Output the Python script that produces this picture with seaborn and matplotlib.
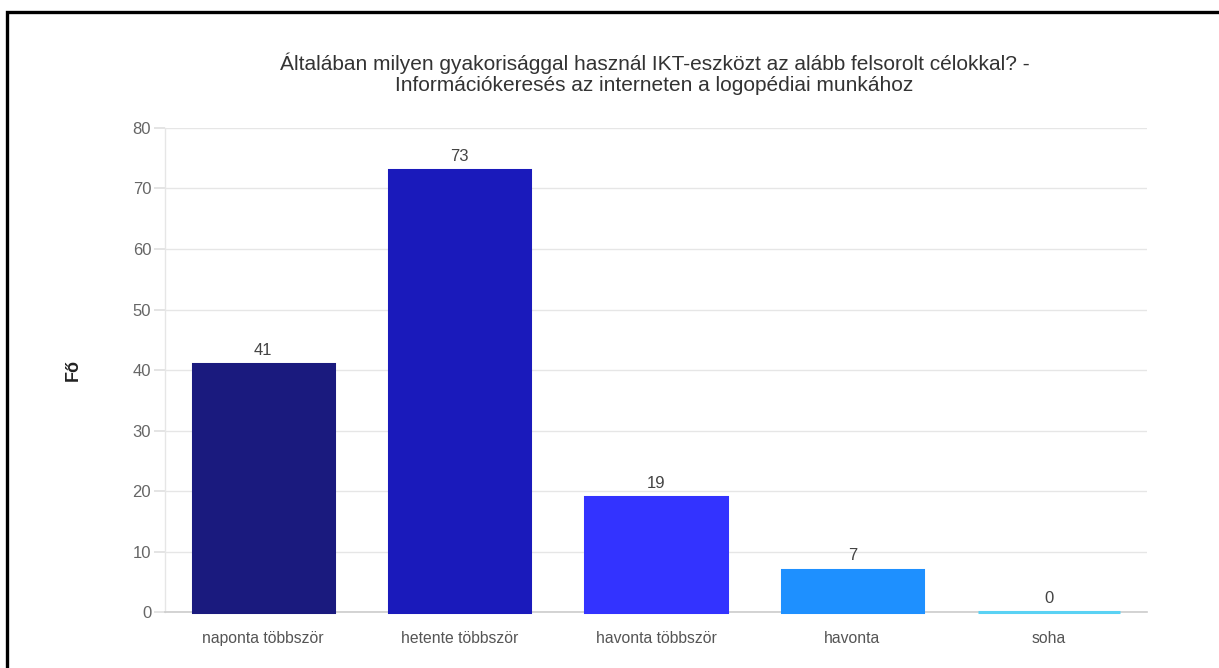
import matplotlib
matplotlib.use("Agg")
import matplotlib.pyplot as plt
import matplotlib.patches as mpatches
import seaborn as sns
import pandas as pd

categories = ["naponta többször", "hetente többször", "havonta többször", "havonta", "soha"]
values = [41, 73, 19, 7, 0]
colors = ["#1a1a7e", "#1a1abb", "#3333ff", "#1e90ff", "#5ad2f4"]
yticks = [0, 10, 20, 30, 40, 50, 60, 70, 80]
title = "Általában milyen gyakorisággal használ IKT-eszközt az alább felsorolt célokkal? -\nInformációkeresés az interneten a logopédiai munkához"
ylabel = "Fő"

sns.set_theme(style="white")
plt.rcParams["font.family"] = ["Liberation Sans", "DejaVu Sans"]

df = pd.DataFrame({"cat": categories, "val": values})

fig = plt.figure(figsize=(12.19, 6.68), dpi=100)
ax = fig.add_axes([0.1354, 0.0838, 0.8056, 0.7246])

sns.barplot(data=df, x="cat", y="val", hue="cat", palette=colors, legend=False,
            width=0.72, ax=ax, saturation=1)
for patch, c in zip(ax.patches, colors):
    patch.set_edgecolor(c)
    patch.set_linewidth(2.2)
    patch.set_zorder(3)
    patch.set_clip_on(False)

ax.set_ylim(0, 80)
ax.set_yticks(yticks)
ax.set_xlim(-0.5, len(categories) - 0.5)
ax.grid(axis="y", color="#e6e6e6", linewidth=1)
ax.set_axisbelow(True)
for s in ["top", "right"]:
    ax.spines[s].set_visible(False)
ax.spines["left"].set_color("#e6e6e6")
ax.spines["bottom"].set_color("#cccccc")
ax.spines["bottom"].set_linewidth(1.2)
ax.spines["left"].set_linewidth(1)

ax.tick_params(axis="y", length=8, color="#e0e0e0", labelsize=12, labelcolor="#666666", pad=2, left=True)
ax.tick_params(axis="x", length=0, labelsize=11.3, labelcolor="#555555", pad=14)

ax.set_xlabel("")
ax.set_ylabel(ylabel, fontsize=13, fontweight="bold", color="#222222")
ax.yaxis.set_label_coords(-0.085, 0.5)

for i, v in enumerate(values):
    ax.annotate(str(v), (i, v), xytext=(0, 4.5), textcoords="offset points",
                ha="center", va="bottom", fontsize=12, color="#444444")

fig.text(0.537, 0.89, title, ha="center", va="center", fontsize=15,
         color="#333333", linespacing=1.15)

frame = mpatches.Rectangle((0.0057, -0.1), 1.2, 0.982 + 0.1, transform=fig.transFigure,
                           fill=False, edgecolor="black", linewidth=2.4)
fig.patches.append(frame)

fig.savefig("out.png", dpi=100, facecolor="white")
